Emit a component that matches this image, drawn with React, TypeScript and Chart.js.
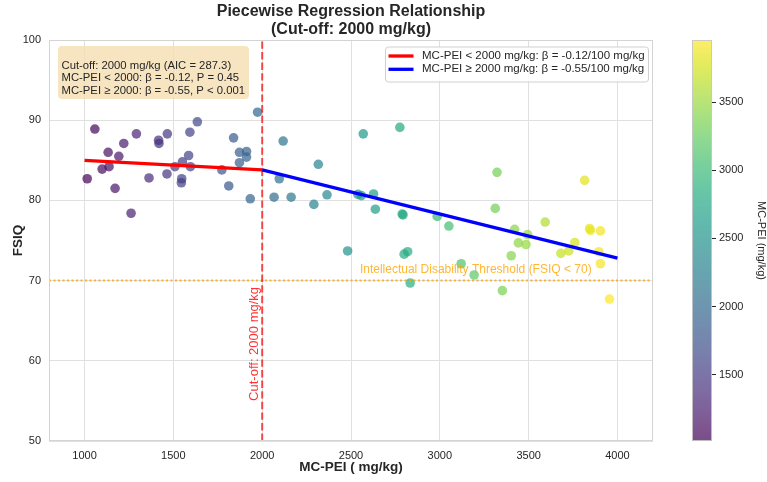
import React, { useEffect, useRef } from "react";
import { Chart, registerables } from "chart.js";

Chart.register(...registerables);

const FONT = "'Liberation Sans', Arial, Helvetica, sans-serif";
const TEXT = "#262626";

// MC-PEI exposure (mg/kg) for each child
const mcPei = [
  1015, 1058, 1099, 1133, 1138, 1172, 1193, 1221, 1262, 1292, 1363, 1417, 1419, 1464, 1466, 1509,
  1545, 1547, 1551, 1586, 1593, 1596, 1635, 1773, 1812, 1839, 1872, 1872, 1912, 1912, 1933, 1974,
  2067, 2096, 2118, 2163, 2291, 2316, 2365, 2481, 2539, 2558, 2569, 2627, 2637, 2775, 2788, 2793,
  2799, 2819, 2833, 2985, 3051, 3120, 3193, 3312, 3322, 3352, 3402, 3421, 3442, 3485, 3494, 3593,
  3681, 3726, 3760, 3815, 3843, 3848, 3895, 3904, 3904, 3955,
];

// Full-scale IQ for each child (same order as mcPei)
const fsiq = [
  82.7, 88.9, 83.9, 86.0, 84.2, 81.5, 85.5, 87.1, 78.4, 88.3, 82.8, 87.5, 87.1, 83.3, 88.3, 84.2,
  82.2, 82.7, 84.8, 85.6, 88.5, 84.2, 89.8, 83.8, 81.8, 87.8, 86.0, 84.7, 86.1, 85.4, 80.2, 91.0,
  80.4, 82.7, 87.4, 80.4, 79.5, 84.5, 80.7, 73.7, 80.75, 80.6, 88.3, 80.8, 78.9, 89.1, 78.3, 78.2,
  73.3, 73.6, 69.7, 78.0, 76.8, 72.1, 70.7, 79.0, 83.5, 68.75, 73.1, 76.4, 74.7, 74.5, 75.75, 77.3,
  73.4, 73.7, 74.75, 82.5, 76.5, 76.25, 73.6, 76.2, 72.1, 67.7,
];

// Fitted segments on either side of the cut-off
const cutoff = 2000;
const lowSegX = [1000, 2000];
const lowSegY = [85.0, 83.8];
const highSegX = [2000, 4000];
const highSegY = [83.8, 72.8];
const idThreshold = 70;

// Axis limits and tick values
const xRange = [800, 4200];
const yRange = [50, 100];
const xTicks = [1000, 1500, 2000, 2500, 3000, 3500, 4000];
const yTicks = [50, 60, 70, 80, 90, 100];
const cbTicks = [1500, 2000, 2500, 3000, 3500];

// Text
const titleLines = ["Piecewise Regression Relationship", "(Cut-off: 2000 mg/kg)"];
const legendLabels = [
  "MC-PEI < 2000 mg/kg: β = -0.12/100 mg/kg",
  "MC-PEI ≥ 2000 mg/kg: β = -0.55/100 mg/kg",
];
const statsLines = [
  "Cut-off: 2000 mg/kg (AIC = 287.3)",
  "MC-PEI < 2000: β = -0.12, P = 0.45",
  "MC-PEI ≥ 2000: β = -0.55, P < 0.001",
];
const cutoffLabel = "Cut-off: 2000 mg/kg";
const thresholdLabel = "Intellectual Disability Threshold (FSIQ < 70)";
const thresholdLabelX = 2550;
const cutoffLabelY = 55;

// viridis colormap
const VIRIDIS = [
  "#440154", "#48186a", "#472d7b", "#424086", "#3b528b", "#33638d", "#2c728e", "#26828e",
  "#21918c", "#1fa088", "#28ae80", "#3fbc73", "#5ec962", "#84d44b", "#addc30", "#d8e219", "#fde725",
];
function hexRgb(h: string) {
  return [parseInt(h.slice(1, 3), 16), parseInt(h.slice(3, 5), 16), parseInt(h.slice(5, 7), 16)];
}
function viridis(t: number, alpha: number) {
  const c = Math.max(0, Math.min(1, t)) * (VIRIDIS.length - 1);
  const i = Math.min(Math.floor(c), VIRIDIS.length - 2);
  const f = c - i;
  const a = hexRgb(VIRIDIS[i]);
  const b = hexRgb(VIRIDIS[i + 1]);
  const m = a.map((v, k) => Math.round(v + (b[k] - v) * f));
  return `rgba(${m[0]},${m[1]},${m[2]},${alpha})`;
}

const vMin = Math.min(...mcPei);
const vMax = Math.max(...mcPei);
const POINT_ALPHA = 0.7;

function roundRect(ctx: CanvasRenderingContext2D, x: number, y: number, w: number, h: number, r: number) {
  ctx.beginPath();
  ctx.moveTo(x + r, y);
  ctx.lineTo(x + w - r, y);
  ctx.quadraticCurveTo(x + w, y, x + w, y + r);
  ctx.lineTo(x + w, y + h - r);
  ctx.quadraticCurveTo(x + w, y + h, x + w - r, y + h);
  ctx.lineTo(x + r, y + h);
  ctx.quadraticCurveTo(x, y + h, x, y + h - r);
  ctx.lineTo(x, y + r);
  ctx.quadraticCurveTo(x, y, x + r, y);
  ctx.closePath();
}

const plainNumber = (v: number | string) => String(v);

// Frame, reference labels, stats box, legend and title
const decorations = {
  id: "decorations",
  afterDatasetsDraw(chart: any) {
    const { ctx, chartArea, scales } = chart;
    const xs = scales.x;
    const ys = scales.y;
    ctx.save();
    // plot frame
    ctx.strokeStyle = "#d4d4d4";
    ctx.lineWidth = 1;
    ctx.strokeRect(chartArea.left + 0.5, chartArea.top + 0.5, chartArea.width - 1, chartArea.height - 1);

    // threshold label
    ctx.font = `12px ${FONT}`;
    ctx.fillStyle = "rgba(255,165,0,0.8)";
    ctx.textAlign = "left";
    ctx.textBaseline = "bottom";
    ctx.fillText(thresholdLabel, xs.getPixelForValue(thresholdLabelX), ys.getPixelForValue(idThreshold) - 5);

    // cut-off label (vertical)
    ctx.save();
    ctx.translate(xs.getPixelForValue(cutoff) - 1, ys.getPixelForValue(cutoffLabelY));
    ctx.rotate(-Math.PI / 2);
    ctx.font = `13px ${FONT}`;
    ctx.fillStyle = "rgba(255,0,0,0.8)";
    ctx.textAlign = "left";
    ctx.textBaseline = "bottom";
    ctx.fillText(cutoffLabel, 0, 0);
    ctx.restore();
    ctx.restore();
  },
  afterDraw(chart: any) {
    const { ctx, chartArea } = chart;
    ctx.save();

    // stats box
    const bx = chartArea.left + 9;
    const by = chartArea.top + 6;
    ctx.fillStyle = "rgba(245,222,179,0.8)";
    roundRect(ctx, bx, by, 191, 53, 4);
    ctx.fill();
    ctx.fillStyle = TEXT;
    ctx.font = `11.3px ${FONT}`;
    ctx.textAlign = "left";
    ctx.textBaseline = "middle";
    statsLines.forEach((s, i) => ctx.fillText(s, bx + 3.5, by + 19.5 + i * 12.6));

    // legend
    const lw = 263;
    const lx = chartArea.right - 5 - lw;
    const ly = chartArea.top + 6.5;
    ctx.fillStyle = "rgba(255,255,255,0.85)";
    ctx.strokeStyle = "#d0d0d0";
    ctx.lineWidth = 1;
    roundRect(ctx, lx + 0.5, ly + 0.5, lw, 35, 3);
    ctx.fill();
    ctx.stroke();
    const fits = chart.data.datasets.slice(0, 2);
    fits.forEach((ds: any, i: number) => {
      const cy = ly + 9.5 + i * 13.3;
      ctx.strokeStyle = ds.borderColor;
      ctx.lineWidth = ds.borderWidth;
      ctx.beginPath();
      ctx.moveTo(lx + 3.5, cy);
      ctx.lineTo(lx + 28.5, cy);
      ctx.stroke();
      ctx.fillStyle = TEXT;
      ctx.font = `11.5px ${FONT}`;
      ctx.textBaseline = "middle";
      ctx.fillText(ds.label, lx + 37, cy);
    });

    // title
    const cx = (chartArea.left + chartArea.right) / 2;
    ctx.fillStyle = TEXT;
    ctx.font = `bold 16px ${FONT}`;
    ctx.textAlign = "center";
    ctx.textBaseline = "middle";
    titleLines.forEach((t, i) => ctx.fillText(t, cx, 12 + i * 18));
    ctx.restore();
  },
};

// Colour bar fill drawn through the colour bar's own scale
const colorbarFill = {
  id: "colorbarFill",
  beforeDatasetsDraw(chart: any) {
    const { ctx, chartArea, scales } = chart;
    const s = scales.y;
    ctx.save();
    for (let py = Math.floor(chartArea.top); py < chartArea.bottom; py++) {
      const v = s.getValueForPixel(py + 0.5);
      ctx.fillStyle = viridis((v - vMin) / (vMax - vMin), POINT_ALPHA);
      ctx.fillRect(chartArea.left, py, chartArea.width, 1);
    }
    ctx.strokeStyle = "rgba(200,200,200,0.9)";
    ctx.lineWidth = 1;
    ctx.strokeRect(chartArea.left + 0.5, chartArea.top + 0.5, chartArea.width - 1, chartArea.height - 1);
    ctx.restore();
  },
};

const tickFont = { family: FONT, size: 11 };

export default function App() {
  const mainRef = useRef<HTMLCanvasElement>(null);
  const cbRef = useRef<HTMLCanvasElement>(null);

  useEffect(() => {
    document.body.style.margin = "0";
    if (!mainRef.current || !cbRef.current) return;
    Chart.defaults.font.family = FONT;

    const pointColors = mcPei.map((v) => viridis((v - vMin) / (vMax - vMin), POINT_ALPHA));

    const main = new Chart(mainRef.current, {
      type: "scatter",
      data: {
        datasets: [
          {
            type: "line",
            label: legendLabels[0],
            data: lowSegX.map((x, i) => ({ x, y: lowSegY[i] })),
            borderColor: "#ff0000",
            borderWidth: 3.3,
            pointRadius: 0,
            fill: false,
            order: 0,
          },
          {
            type: "line",
            label: legendLabels[1],
            data: highSegX.map((x, i) => ({ x, y: highSegY[i] })),
            borderColor: "#0000ff",
            borderWidth: 3.3,
            pointRadius: 0,
            fill: false,
            order: 0,
          },
          {
            type: "line",
            label: "cut-off",
            data: [
              { x: cutoff, y: yRange[0] },
              { x: cutoff, y: yRange[1] },
            ],
            borderColor: "rgba(255,0,0,0.7)",
            borderWidth: 2,
            borderDash: [7.4, 3.2],
            pointRadius: 0,
            fill: false,
            order: 1,
          },
          {
            type: "line",
            label: "threshold",
            data: [
              { x: xRange[0], y: idThreshold },
              { x: xRange[1], y: idThreshold },
            ],
            borderColor: "rgba(255,165,0,0.8)",
            borderWidth: 2,
            borderDash: [2, 2.5],
            pointRadius: 0,
            fill: false,
            order: 1,
          },
          {
            label: "FSIQ",
            data: mcPei.map((x, i) => ({ x, y: fsiq[i] })),
            backgroundColor: pointColors,
            borderWidth: 0,
            pointRadius: 4.8,
            order: 2,
          },
        ],
      } as any,
      options: {
        animation: false,
        responsive: false,
        events: [],
        layout: { padding: { top: 40, right: 114, left: 0, bottom: 0 } },
        plugins: { legend: { display: false }, tooltip: { enabled: false }, title: { display: false } },
        scales: {
          x: {
            type: "linear",
            min: xRange[0],
            max: xRange[1],
            afterBuildTicks: (s: any) => {
              s.ticks = xTicks.map((value) => ({ value }));
            },
            afterFit: (s: any) => {
              s.height = 41;
            },
            grid: { color: "#e0e0e0", lineWidth: 1, drawTicks: false },
            border: { display: false },
            ticks: { padding: 8, color: TEXT, font: tickFont, maxRotation: 0, callback: plainNumber },
            title: {
              display: true,
              text: "MC-PEI ( mg/kg)",
              color: TEXT,
              font: { family: FONT, size: 13.5, weight: "bold" },
              padding: { top: 0, bottom: 7 },
            },
          },
          y: {
            min: yRange[0],
            max: yRange[1],
            afterBuildTicks: (s: any) => {
              s.ticks = yTicks.map((value) => ({ value }));
            },
            afterFit: (s: any) => {
              s.width = 49;
            },
            grid: { color: "#e0e0e0", lineWidth: 1, drawTicks: false },
            border: { display: false },
            ticks: { padding: 8, color: TEXT, font: tickFont, callback: plainNumber },
            title: {
              display: true,
              text: "FSIQ",
              color: TEXT,
              font: { family: FONT, size: 13.5, weight: "bold" },
              padding: { top: 10, bottom: 0 },
            },
          },
        },
      } as any,
      plugins: [decorations],
    });

    const cb = new Chart(cbRef.current, {
      type: "scatter",
      data: { datasets: [] },
      options: {
        animation: false,
        responsive: false,
        events: [],
        layout: { padding: { top: 40, left: 32, right: 0, bottom: 41 } },
        plugins: { legend: { display: false }, tooltip: { enabled: false } },
        scales: {
          x: { display: false, min: 0, max: 1 },
          y: {
            position: "right",
            min: vMin,
            max: vMax,
            afterBuildTicks: (s: any) => {
              s.ticks = cbTicks.map((value) => ({ value }));
            },
            afterFit: (s: any) => {
              s.width = 55;
            },
            grid: { drawOnChartArea: false, drawTicks: true, tickLength: 4, tickColor: TEXT, tickWidth: 1 },
            border: { display: false },
            ticks: { padding: 3, color: TEXT, font: tickFont, callback: plainNumber },
            title: {
              display: true,
              text: "MC-PEI (mg/kg)",
              color: TEXT,
              font: { family: FONT, size: 11, lineHeight: 1 },
              padding: 0,
            },
          },
        },
      } as any,
      plugins: [colorbarFill],
    });

    return () => {
      main.destroy();
      cb.destroy();
    };
  }, []);

  return (
    <div style={{ position: "relative", width: 767, height: 482, background: "#fff" }}>
      <canvas ref={mainRef} width={767} height={482} style={{ position: "absolute", left: 0, top: 0 }} />
      <canvas ref={cbRef} width={107} height={482} style={{ position: "absolute", left: 660, top: 0 }} />
    </div>
  );
}
